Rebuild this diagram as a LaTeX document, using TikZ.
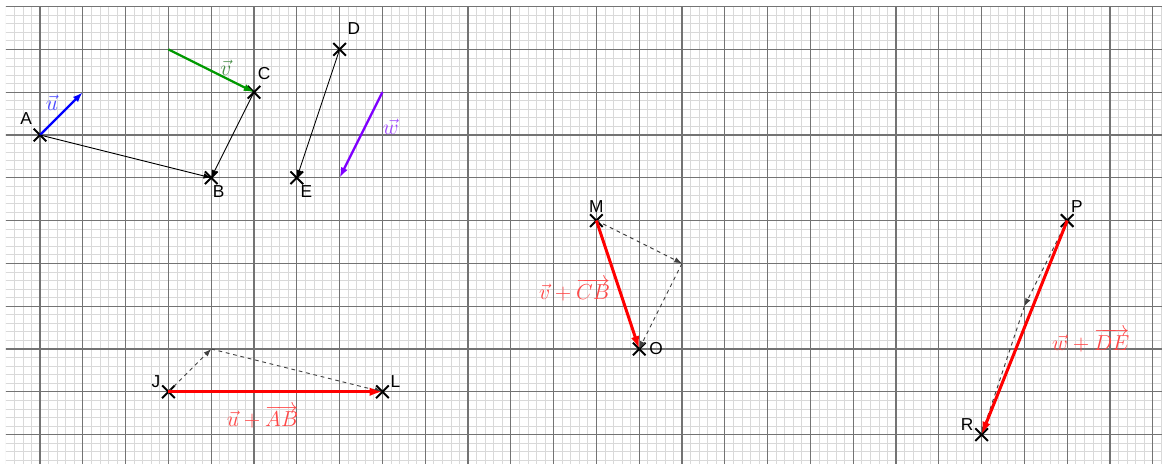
\documentclass[tikz,border=0pt]{standalone}
\usepackage{fontspec}
\newfontfamily\ptfont{Liberation Sans}
\usetikzlibrary{positioning,arrows.meta,shapes.misc}

\definecolor{ublue}{RGB}{0,0,255}
\definecolor{ublueL}{RGB}{70,70,255}
\definecolor{vgreen}{RGB}{0,153,0}
\definecolor{vgreenL}{RGB}{70,140,70}
\definecolor{wpurple}{RGB}{127,0,255}
\definecolor{wpurpleL}{RGB}{160,70,255}
\definecolor{sumred}{RGB}{255,0,0}
\definecolor{sumredL}{RGB}{255,70,70}

\begin{document}
\begin{tikzpicture}[>=Latex, node distance=0mm,
  minorline/.style={black!15, line width=0.5pt},
  majorline/.style={black!55, line width=0.8pt},
  pt/.style={draw, cross out, line width=1.3pt, minimum size=2.5mm, inner sep=0pt},
  ptname/.style={font=\ptfont\fontsize{11.5}{13}\selectfont, inner sep=1pt},
  veclabel/.style={font=\fontsize{13.5}{15}\selectfont, inner sep=1pt},
  given/.style={-{Latex[length=2.4mm,width=1.7mm]}, line width=1.5pt},
  result/.style={-{Latex[length=3mm,width=2mm]}, line width=2pt, sumred},
  linkarrow/.style={-{Latex[length=1.8mm,width=1.3mm]}, line width=0.6pt},
  helper/.style={-{Latex[length=1.8mm,width=1.3mm]}, line width=0.6pt, dash pattern=on 2.5pt off 2.5pt, black!75}]

  % grid paper
  \useasboundingbox (-0.935,-7.687) rectangle (26.215,3.154);
  \begin{scope}
    \clip (-0.8,-7.687) rectangle (26.215,3.01);
    \foreach \i in {-4,...,131} {
      \pgfmathtruncatemacro\r{mod(\i+5,5)}
      \ifnum\r>0 \draw[minorline] (\i/5,-8) -- (\i/5,3); \fi
    }
    \foreach \j in {-39,...,15} {
      \pgfmathtruncatemacro\r{mod(\j+40,5)}
      \ifnum\r>0 \draw[minorline] (-1,\j/5) -- (27,\j/5); \fi
    }
    \foreach \i in {0,...,26} \draw[majorline] (\i,-8) -- (\i,3);
    \foreach \j in {-7,...,3} \draw[majorline] (-1,\j) -- (27,\j);
  \end{scope}

  % points
  \node[pt] (A) at (0,0) {};
  \node[ptname, above left=0.5mm and 0mm of A] {A};
  \node[pt] (B) at (4,-1) {};
  \node[ptname, below right=0mm and -1.5mm of B] {B};
  \node[pt] (C) at (5,1) {};
  \node[ptname, above right=1mm and -1mm of C] {C};
  \node[pt] (D) at (7,2) {};
  \node[ptname, above right=1.5mm and 0mm of D] {D};
  \node[pt] (E) at (6,-1) {};
  \node[ptname, below right=0mm and -1mm of E] {E};

  % given vectors
  \coordinate (uend) at (1,1);
  \coordinate (vstart) at (3,2);
  \coordinate (wstart) at (8,1);
  \coordinate (wend) at (7,-1);
  \draw[given, ublue] (A.center) -- (uend) node[veclabel, midway, above left=0.3mm, text=ublueL] {$\vec{u}$};
  \draw[given, vgreen] (vstart) -- (C.center) node[veclabel, pos=0.67, above, text=vgreenL] {$\vec{v}$};
  \draw[given, wpurple] (wstart) -- (wend) node[veclabel, pos=0.4, right=3.5mm, text=wpurpleL] {$\vec{w}$};

  \draw[linkarrow] (A.center) -- (B.center);
  \draw[linkarrow] (C.center) -- (B.center);
  \draw[linkarrow] (D.center) -- (E.center);

  % u + AB
  \node[pt] (J) at (3,-6) {};
  \node[ptname, above left=-1mm and 0mm of J] {J};
  \node[pt] (L) at (8,-6) {};
  \node[ptname, above right=-1mm and 0mm of L] {L};
  \coordinate (Ju) at (4,-5);
  \draw[helper] (J.center) -- (Ju);
  \draw[helper] (Ju) -- (L.center);
  \draw[result] (J.center) -- (L.center) node[veclabel, pos=0.44, below=2.5mm, text=sumredL] {$\vec{u}+\overrightarrow{AB}$};

  % v + CB
  \node[pt] (M) at (13,-2) {};
  \node[ptname, above=0mm of M] {M};
  \node[pt] (O) at (14,-5) {};
  \node[ptname, right=0.5mm of O] {O};
  \coordinate (Mv) at (15,-3);
  \draw[helper] (M.center) -- (Mv);
  \draw[helper] (Mv) -- (O.center);
  \draw[result] (M.center) -- (O.center) node[veclabel, pos=0.54, left=1.5mm, text=sumredL] {$\vec{v}+\overrightarrow{CB}$};

  % w + DE
  \node[pt] (P) at (24,-2) {};
  \node[ptname, above right=0mm and -1mm of P] {P};
  \node[pt] (R) at (22,-7) {};
  \node[ptname, above left=-1mm and 0mm of R] {R};
  \coordinate (Pw) at (23,-4);
  \draw[helper] (P.center) -- (Pw);
  \draw[helper] (Pw) -- (R.center);
  \draw[result] (P.center) -- (R.center) node[veclabel, pos=0.56, right=7mm, text=sumredL] {$\vec{w}+\overrightarrow{DE}$};
\end{tikzpicture}
\end{document}
